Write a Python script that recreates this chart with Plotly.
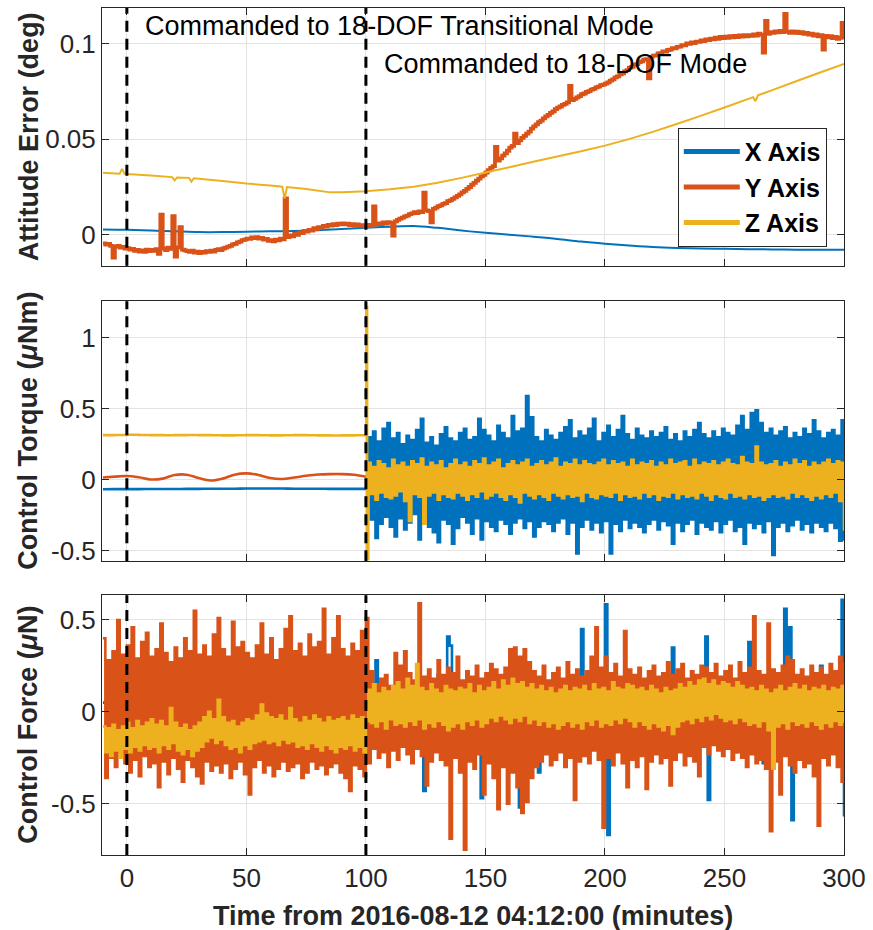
import plotly.graph_objects as go
from plotly.subplots import make_subplots

BLUE = '#0072BD'
ORANGE = '#D95319'
YELLOW = '#EDB120'
AXC = '#262626'

# ---------------- time grids (minutes) ----------------
t_minutes = list(range(-10, 301))          # 1-minute grid
t_post = list(range(101, 301))             # after switch to 18-DOF mode
t_coarse = list(range(-10, 301, 10))       # 10-minute grid
tq_pre_t = list(range(-10, 101, 5))        # 5-minute grid before switch
tq_y_post_t = list(range(101, 300, 4))
t_jump = [100.2, 100.5]

x_ticks = [0, 50, 100, 150, 200, 250, 300]
events = [0, 100]

# ---------------- Attitude error (deg) ----------------
att_x = [0.0028, 0.0026, 0.0022, 0.0018, 0.0014, 0.0014, 0.0016, 0.0018, 0.0020, 0.0024,
         0.0030, 0.0036, 0.0042, 0.0046, 0.0036, 0.0022, 0.0010, 0.0000, -0.0010, -0.0022,
         -0.0036, -0.0047, -0.0056, -0.0064, -0.0069, -0.0072, -0.0074, -0.0076, -0.0077,
         -0.0078, -0.0078, -0.0078]

att_z_t = [-10, -3, -2, -1, 0, 10, 19, 20, 21, 26, 27, 28, 40, 50, 60, 65, 66, 67, 75, 85, 90,
           100, 110, 120, 130, 140, 150, 160, 170, 180, 190, 200, 210, 220, 230, 240, 250,
           260, 262, 263, 264, 270, 280, 290, 300]
att_z = [0.0325, 0.0320, 0.0345, 0.0320, 0.0318, 0.0310, 0.0302, 0.0285, 0.0300, 0.0298, 0.0278,
         0.0296, 0.0282, 0.0268, 0.0258, 0.0252, 0.0190, 0.0250, 0.0240, 0.0222, 0.0222,
         0.0228, 0.0238, 0.0252, 0.0272, 0.0298, 0.0326, 0.0354, 0.0382, 0.0410, 0.0437,
         0.0467, 0.0501, 0.0539, 0.0580, 0.0623, 0.0667, 0.0712, 0.0721, 0.0700, 0.0730,
         0.0758, 0.0804, 0.0850, 0.0895]

att_y = [
    -0.0045, -0.0052, -0.0048, -0.0058, -0.0120, -0.0062, -0.0058, -0.0068, -0.0064, -0.0072,
    -0.0070, -0.0078, -0.0074, -0.0085, -0.0080, -0.0088, -0.0082, -0.0090, -0.0078, -0.0086,
    -0.0080, -0.0084, -0.0076, -0.0100, 0.0105, -0.0072, -0.0080, -0.0068, -0.0074, 0.0098,
    -0.0115, -0.0066, 0.0040, -0.0078, -0.0082, -0.0086, -0.0090, -0.0084, -0.0094, -0.0088,
    -0.0096, -0.0090, -0.0094, -0.0086, -0.0090, -0.0084, -0.0088, -0.0080, -0.0076, -0.0080,
    -0.0072, -0.0068, -0.0062, -0.0058, -0.0050, -0.0048, -0.0040, -0.0036, -0.0028, -0.0026,
    -0.0020, -0.0022, -0.0014, -0.0018, -0.0012, -0.0020, -0.0016, -0.0026, -0.0022, -0.0032,
    -0.0028, -0.0034, -0.0026, -0.0030, -0.0020, -0.0024, 0.0190, -0.0012, -0.0004, -0.0008,
    0.0004, 0.0000, 0.0012, 0.0008, 0.0020, 0.0016, 0.0026, 0.0022, 0.0034, 0.0030,
    0.0040, 0.0036, 0.0046, 0.0042, 0.0052, 0.0048, 0.0056, 0.0050, 0.0058, 0.0054,
    0.0060, 0.0054, 0.0058, 0.0050, 0.0056, 0.0048, 0.0054, 0.0046, 0.0050, 0.0044,
    0.0048, 0.0052, 0.0046, 0.0148, 0.0054, 0.0060, 0.0056, 0.0064, 0.0058, 0.0066,
    0.0062, -0.0005, 0.0070, 0.0078, 0.0084, 0.0090, 0.0096, 0.0100, 0.0108, 0.0112,
    0.0118, 0.0114, 0.0122, 0.0118, 0.0220, 0.0128, 0.0124, 0.0065, 0.0136, 0.0142,
    0.0150, 0.0154, 0.0162, 0.0166, 0.0176, 0.0180, 0.0188, 0.0196, 0.0204, 0.0212,
    0.0222, 0.0230, 0.0240, 0.0250, 0.0262, 0.0272, 0.0284, 0.0294, 0.0306, 0.0314,
    0.0326, 0.0338, 0.0350, 0.0360, 0.0460, 0.0388, 0.0400, 0.0414, 0.0426, 0.0440,
    0.0456, 0.0466, 0.0530, 0.0480, 0.0494, 0.0508, 0.0518, 0.0530, 0.0540, 0.0556,
    0.0568, 0.0578, 0.0590, 0.0598, 0.0610, 0.0620, 0.0628, 0.0638, 0.0646, 0.0658,
    0.0666, 0.0672, 0.0680, 0.0686, 0.0694, 0.0780, 0.0706, 0.0712, 0.0720, 0.0726,
    0.0736, 0.0740, 0.0748, 0.0752, 0.0760, 0.0764, 0.0772, 0.0776, 0.0784, 0.0786,
    0.0792, 0.0798, 0.0808, 0.0814, 0.0824, 0.0830, 0.0840, 0.0846, 0.0856, 0.0862,
    0.0876, 0.0880, 0.0890, 0.0894, 0.0904, 0.0908, 0.0918, 0.0920, 0.0820, 0.0932,
    0.0938, 0.0940, 0.0950, 0.0952, 0.0960, 0.0960, 0.0968, 0.0970, 0.0978, 0.0976,
    0.0984, 0.0986, 0.0994, 0.0992, 0.1002, 0.1000, 0.1008, 0.1004, 0.1012, 0.1010,
    0.1018, 0.1014, 0.1024, 0.1020, 0.1028, 0.1024, 0.1032, 0.1026, 0.1036, 0.1030,
    0.1038, 0.1032, 0.1040, 0.1034, 0.1042, 0.1036, 0.1044, 0.1038, 0.1046, 0.1040,
    0.1046, 0.1042, 0.1050, 0.1044, 0.1054, 0.1048, 0.0954, 0.1120, 0.1052, 0.1062,
    0.1058, 0.1066, 0.1060, 0.1068, 0.1062, 0.1157, 0.1064, 0.1058, 0.1066, 0.1058,
    0.1064, 0.1056, 0.1062, 0.1052, 0.1058, 0.1048, 0.1054, 0.1044, 0.1050, 0.1040,
    0.1046, 0.0970, 0.1042, 0.1034, 0.1040, 0.1030, 0.1036, 0.1026, 0.1032, 0.1110,
    0.1025]

# ---------------- Control torque (uNm) ----------------
tq_x_pre = [-0.067, -0.066, -0.066, -0.066, -0.065, -0.065, -0.065, -0.064, -0.064, -0.063,
            -0.063, -0.063, -0.062, -0.062, -0.062, -0.062, -0.063, -0.063, -0.063, -0.064,
            -0.064, -0.064, -0.064]
tq_y_pre = [0.016, 0.022, 0.027, 0.018, 0.002, 0.008, 0.034, 0.036, 0.012, -0.005, 0.008,
            0.036, 0.045, 0.034, 0.012, 0.006, 0.016, 0.028, 0.037, 0.040, 0.040, 0.035, 0.022]
tq_z_pre = [0.315, 0.316, 0.317, 0.316, 0.315, 0.314, 0.315, 0.316, 0.315, 0.314, 0.313,
            0.314, 0.315, 0.314, 0.313, 0.314, 0.315, 0.314, 0.313, 0.312, 0.313, 0.314, 0.316]
tq_z_jump = [1.22, -0.56]

tq_x_post = [
    0.30, -0.28, 0.34, -0.41, 0.27, -0.31, 0.36, -0.26, 0.40, -0.33,
    0.29, -0.40, 0.33, -0.27, 0.25, -0.35, 0.31, -0.30, 0.28, -0.24,
    0.35, -0.42, 0.43, -0.29, 0.26, -0.33, 0.30, -0.37, 0.24, -0.44,
    0.32, -0.28, 0.37, -0.31, 0.29, -0.45, 0.27, -0.34, 0.33, -0.26,
    0.36, -0.30, 0.28, -0.38, 0.30, -0.27, 0.43, -0.42, 0.35, -0.29,
    0.31, -0.33, 0.27, -0.36, 0.38, -0.28, 0.33, -0.31, 0.29, -0.38,
    0.45, -0.30, 0.34, -0.27, 0.36, -0.34, 0.59, -0.29, 0.44, -0.40,
    0.30, -0.33, 0.27, -0.29, 0.35, -0.31, 0.31, -0.36, 0.28, -0.30,
    0.33, -0.27, 0.37, -0.38, 0.42, -0.30, 0.29, -0.52, 0.34, -0.33,
    0.31, -0.28, 0.36, -0.35, 0.43, -0.30, 0.27, -0.37, 0.33, -0.29,
    0.38, -0.52, 0.30, -0.31, 0.35, -0.36, 0.45, -0.28, 0.32, -0.34,
    0.28, -0.30, 0.36, -0.33, 0.31, -0.37, 0.29, -0.31, 0.34, -0.28,
    0.30, -0.35, 0.33, -0.29, 0.37, -0.32, 0.28, -0.45, 0.32, -0.30,
    0.27, -0.36, 0.34, -0.31, 0.30, -0.28, 0.35, -0.38, 0.40, -0.30,
    0.32, -0.33, 0.29, -0.35, 0.34, -0.29, 0.30, -0.37, 0.36, -0.31,
    0.33, -0.28, 0.31, -0.36, 0.38, -0.33, 0.45, -0.45, 0.35, -0.30,
    0.47, -0.34, 0.49, -0.31, 0.40, -0.37, 0.33, -0.29, 0.36, -0.53,
    0.31, -0.33, 0.34, -0.30, 0.37, -0.36, 0.29, -0.32, 0.33, -0.28,
    0.30, -0.35, 0.36, -0.31, 0.32, -0.37, 0.42, -0.30, 0.34, -0.33,
    0.29, -0.36, 0.33, -0.30, 0.35, -0.34, 0.31, -0.43, 0.42, -0.43]

tq_y_post = [
    0.05, -0.04, 0.06, -0.05, 0.04, -0.06, 0.05, -0.03, 0.06, -0.05,
    0.04, -0.05, 0.06, -0.04, 0.05, -0.06, 0.04, -0.05, 0.06, -0.04,
    0.05, -0.05, 0.04, -0.06, 0.05, -0.04, 0.06, -0.05, 0.04, -0.05,
    0.06, -0.04, 0.05, -0.06, 0.04, -0.05, 0.05, -0.04, 0.06, -0.05,
    0.04, -0.06, 0.05, -0.04, 0.06, -0.05, 0.04, -0.05, 0.05, -0.04]

tq_z_post = [
    0.12, -0.10, 0.09, -0.14, 0.13, -0.09, 0.11, -0.12, 0.08, -0.13,
    0.14, -0.11, 0.10, -0.08, 0.12, -0.15, 0.09, -0.29, 0.13, -0.10,
    0.11, -0.12, 0.15, -0.31, 0.09, -0.11, 0.12, -0.09, 0.10, -0.14,
    0.13, -0.10, 0.08, -0.12, 0.11, -0.13, 0.14, -0.09, 0.10, -0.11,
    0.12, -0.14, 0.09, -0.10, 0.13, -0.12, 0.11, -0.08, 0.15, -0.13,
    0.10, -0.11, 0.12, -0.09, 0.14, -0.12, 0.08, -0.14, 0.11, -0.10,
    0.13, -0.12, 0.10, -0.16, 0.12, -0.09, 0.14, -0.11, 0.09, -0.13,
    0.11, -0.10, 0.13, -0.12, 0.10, -0.14, 0.12, -0.09, 0.15, -0.11,
    0.09, -0.13, 0.12, -0.10, 0.11, -0.12, 0.14, -0.11, 0.10, -0.15,
    0.13, -0.09, 0.11, -0.12, 0.10, -0.13, 0.12, -0.10, 0.14, -0.11,
    0.10, -0.12, 0.13, -0.09, 0.11, -0.14, 0.12, -0.10, 0.09, -0.12,
    0.14, -0.11, 0.10, -0.13, 0.12, -0.09, 0.11, -0.12, 0.13, -0.10,
    0.09, -0.14, 0.12, -0.11, 0.10, -0.12, 0.14, -0.09, 0.11, -0.13,
    0.12, -0.10, 0.13, -0.12, 0.09, -0.11, 0.14, -0.13, 0.10, -0.09,
    0.12, -0.11, 0.11, -0.14, 0.13, -0.10, 0.10, -0.12, 0.12, -0.13,
    0.14, -0.09, 0.11, -0.12, 0.10, -0.11, 0.16, -0.13, 0.12, -0.10,
    0.11, -0.12, 0.235, -0.11, 0.12, -0.14, 0.10, -0.12, 0.11, -0.10,
    0.13, -0.12, 0.09, -0.11, 0.12, -0.13, 0.10, -0.09, 0.14, -0.12,
    0.11, -0.10, 0.13, -0.12, 0.09, -0.14, 0.12, -0.11, 0.10, -0.13,
    0.12, -0.10, 0.14, -0.12, 0.11, -0.09, 0.13, -0.15, 0.12, -0.36]

# ---------------- Control force (uN) ----------------
fc_x_t = [-10, -5, 0, 5, 10, 15, 20, 25, 30, 35, 40, 45, 50, 55, 60, 65, 70, 75, 80, 85, 90, 95, 100,
          103, 104, 105, 110, 115, 120, 123, 124, 125, 129,
          130, 131, 133, 134, 135, 136, 140, 147, 148, 149,
          155, 160, 163, 164, 165, 166, 171, 172, 173, 180,
          189, 190, 191, 199, 200, 201, 202, 208, 209, 210,
          215, 220, 227, 228, 229, 235, 241, 242, 243, 244,
          250, 253, 254, 255, 259, 260, 261, 265, 266, 267,
          270, 274, 275, 276, 277, 278, 279, 285, 289, 290,
          291, 295, 298, 299, 300]
fc_x = [0.05, -0.05, 0.06, -0.04, 0.05, -0.06, 0.04, -0.05, 0.05, -0.04, 0.06, -0.05, 0.04,
        -0.06, 0.05, -0.05, 0.06, -0.04, 0.05, -0.05, 0.04, -0.06, 0.05,
        0.00, 0.28, -0.02, 0.05, -0.05, 0.04, 0.00, -0.43, 0.00, 0.02,
        0.20, 0.00, 0.02, 0.41, 0.36, 0.00, -0.05, 0.00, -0.47, 0.00,
        0.05, -0.05, 0.00, -0.52, -0.50, 0.00, 0.00, -0.33, 0.00, 0.05,
        0.00, 0.45, 0.00, 0.00, 0.585, -0.67, 0.00, 0.00, 0.22, 0.00,
        0.05, -0.05, 0.00, 0.35, 0.00, -0.05, 0.00, 0.41, -0.48, 0.00,
        0.05, 0.00, -0.22, 0.00, 0.00, 0.38, 0.00, 0.00, -0.28, 0.00,
        0.05, 0.00, 0.56, 0.00, 0.46, -0.59, 0.00, 0.05, 0.00, 0.25,
        0.00, -0.05, 0.00, 0.61, -0.57]

fc_y = [
    0.40, -0.36, 0.28, -0.25, 0.33, -0.30, 0.50, -0.22, 0.31, -0.28,
    0.36, -0.33, 0.46, -0.26, 0.29, -0.35, 0.38, -0.24, 0.43, -0.30,
    0.30, -0.28, 0.34, -0.41, 0.48, -0.27, 0.32, -0.34, 0.27, -0.25,
    0.35, -0.31, 0.29, -0.38, 0.40, -0.26, 0.33, -0.30, 0.55, -0.35,
    0.31, -0.39, 0.36, -0.27, 0.30, -0.32, 0.42, -0.29, 0.51, -0.33,
    0.34, -0.28, 0.30, -0.36, 0.49, -0.31, 0.35, -0.27, 0.38, -0.34,
    0.32, -0.45, 0.29, -0.30, 0.36, -0.26, 0.48, -0.33, 0.31, -0.29,
    0.40, -0.35, 0.28, -0.31, 0.34, -0.27, 0.45, -0.32, 0.52, -0.30,
    0.33, -0.28, 0.37, -0.36, 0.30, -0.33, 0.42, -0.27, 0.35, -0.31,
    0.38, -0.29, 0.56, -0.34, 0.31, -0.30, 0.40, -0.28, 0.52, -0.33,
    0.34, -0.36, 0.30, -0.43, 0.37, -0.29, 0.33, -0.31, 0.44, -0.35,
    0.51,
    -0.28, 0.22, -0.20, 0.15, -0.25, 0.18, -0.22, 0.20, -0.30, 0.14,
    -0.21, 0.32, -0.26, 0.25, -0.19, 0.33, -0.23, 0.21, -0.28, 0.17,
    -0.20, 0.59, -0.24, 0.19, -0.40, 0.23, -0.27, 0.18, -0.22, 0.28,
    -0.26, 0.20, -0.29, 0.24, -0.69, 0.21, -0.25, 0.30, -0.33, 0.17,
    -0.75, 0.22, -0.27, 0.19, -0.31, 0.25, -0.23, 0.18, -0.45, 0.21,
    -0.28, 0.26, -0.36, 0.23, -0.53, 0.20, -0.30, 0.24, -0.50, 0.34,
    -0.33, 0.35, -0.41, 0.30, -0.55, 0.34, -0.49, 0.27, -0.36, 0.22,
    -0.30, 0.19, -0.27, 0.25, -0.23, 0.17, -0.29, 0.21, -0.26, 0.24,
    -0.22, 0.18, -0.30, 0.27, -0.25, 0.20, -0.48, 0.23, -0.27, 0.19,
    -0.24, 0.22, -0.28, 0.30, -0.21, 0.46, -0.26, 0.24, -0.63, 0.30,
    -0.25, 0.21, -0.29, 0.26, -0.22, 0.19, -0.28, 0.44, -0.41, 0.23,
    -0.26, 0.20, -0.30, 0.24, -0.24, 0.18, -0.42, 0.22, -0.27, 0.25,
    -0.23, 0.19, -0.28, 0.21, -0.25, 0.27, -0.40, 0.20, -0.26, 0.23,
    -0.22, 0.26, -0.29, 0.18, -0.24, 0.22, -0.27, 0.20, -0.35, 0.25,
    -0.19, 0.24, -0.23, 0.21, -0.18, 0.26, -0.21, 0.19, -0.24, 0.22,
    -0.20, 0.25, -0.26, 0.18, -0.22, 0.27, -0.25, 0.21, -0.30, 0.24,
    -0.23, 0.52, -0.28, 0.22, -0.26, 0.20, -0.31, 0.48, -0.65, 0.23,
    -0.27, 0.21, -0.45, 0.25, -0.24, 0.30, -0.29, 0.28, -0.33, 0.20,
    -0.26, 0.23, -0.30, 0.19, -0.28, 0.25, -0.35, 0.21, -0.62, 0.24,
    -0.25, 0.20, -0.29, 0.26, -0.23, 0.22, -0.30, 0.30, -0.38, 0.27]

fc_z = [
    -0.08, -0.22, -0.09, -0.24, -0.07, -0.21, -0.10, -0.25, -0.08, -0.20,
    -0.06, -0.22, -0.09, -0.19, -0.05, -0.21, -0.08, -0.18, -0.06, -0.20,
    -0.04, -0.19, -0.07, -0.22, -0.05, -0.18, -0.08, -0.20, 0.02, -0.17,
    -0.06, -0.21, -0.09, -0.23, -0.07, -0.20, -0.10, -0.24, -0.08, -0.21,
    -0.06, -0.19, -0.03, -0.16, 0.00, -0.14, -0.04, -0.17, 0.065, -0.15,
    -0.03, -0.18, -0.06, -0.20, -0.05, -0.19, -0.08, -0.22, -0.06, -0.18,
    -0.04, -0.20, -0.05, -0.17, -0.02, -0.16, 0.04, -0.15, -0.01, -0.17,
    -0.03, -0.16, -0.04, -0.18, -0.02, -0.15, -0.05, -0.17, 0.02, -0.16,
    -0.04, -0.19, -0.06, -0.18, -0.03, -0.20, -0.05, -0.17, -0.02, -0.19,
    -0.04, -0.21, -0.06, -0.18, -0.03, -0.20, -0.05, -0.22, -0.04, -0.19,
    -0.03, -0.20, -0.05, -0.18, -0.02, -0.21, -0.04, -0.19, -0.03, -0.22,
    -0.05,
    0.12, -0.06, 0.15, -0.08, 0.10, -0.05, 0.13, -0.09, 0.11, -0.04,
    0.14, -0.07, 0.16, -0.06, 0.12, -0.08, 0.18, -0.05, 0.14, -0.07,
    0.26, -0.04, 0.13, -0.09, 0.11, -0.06, 0.15, -0.08, 0.12, -0.05,
    0.10, -0.07, 0.14, -0.10, 0.12, -0.08, 0.11, -0.06, 0.13, -0.09,
    0.12, -0.05, 0.15, -0.07, 0.10, -0.04, 0.14, -0.08, 0.11, -0.06,
    0.13, -0.03, 0.16, -0.05, 0.12, -0.02, 0.17, -0.04, 0.14, -0.06,
    0.18, -0.03, 0.15, -0.05, 0.16, -0.02, 0.13, -0.06, 0.15, -0.04,
    0.12, -0.07, 0.14, -0.05, 0.11, -0.08, 0.13, -0.06, 0.10, -0.09,
    0.12, -0.07, 0.14, -0.05, 0.11, -0.08, 0.13, -0.06, 0.12, -0.09,
    0.14, -0.05, 0.11, -0.07, 0.15, -0.04, 0.12, -0.08, 0.13, -0.06,
    0.11, -0.07, 0.16, -0.04, 0.13, -0.06, 0.12, -0.03, 0.15, -0.05,
    0.14, -0.08, 0.12, -0.05, 0.13, -0.07, 0.11, -0.09, 0.14, -0.06,
    0.12, -0.08, 0.10, -0.10, 0.13, -0.07, 0.11, -0.12, 0.12, -0.08,
    0.15, -0.05, 0.13, -0.04, 0.16, -0.06, 0.14, -0.03, 0.17, -0.05,
    0.18, -0.02, 0.15, -0.04, 0.17, -0.01, 0.14, -0.03, 0.16, -0.05,
    0.15, -0.04, 0.13, -0.06, 0.16, -0.03, 0.14, -0.05, 0.12, -0.07,
    0.13, -0.06, 0.11, -0.08, 0.14, -0.05, 0.12, -0.10, 0.10, -0.31,
    0.12, -0.08, 0.14, -0.06, 0.11, -0.09, 0.13, -0.05, 0.15, -0.07,
    0.12, -0.06, 0.14, -0.08, 0.11, -0.05, 0.13, -0.07, 0.12, -0.09,
    0.14, -0.06, 0.11, -0.08, 0.13, -0.05, 0.12, -0.07, 0.14, -0.06]

series_names = ['X Axis', 'Y Axis', 'Z Axis']
series_colors = [BLUE, ORANGE, YELLOW]

# ---------------- figure ----------------
fig = make_subplots(rows=3, cols=1)

def add_line(x, y, color, row, width=2.0, shape='linear'):
    fig.add_trace(go.Scatter(x=x, y=y, mode='lines', showlegend=False, hoverinfo='skip',
                             line=dict(color=color, width=width, shape=shape, simplify=False)),
                  row=row, col=1)

# row 1: attitude error
add_line(t_coarse, att_x, BLUE, 1, 2.0, 'spline')
add_line(t_minutes, att_y, ORANGE, 1, 3.8, 'hv')
add_line(att_z_t, att_z, YELLOW, 1, 2.0)

# row 2: control torque
add_line(tq_pre_t, tq_x_pre, BLUE, 2, 2.6, 'spline')
add_line([100] + t_post, [tq_x_pre[-1]] + tq_x_post, BLUE, 2, 2.6, 'hv')
add_line(tq_pre_t, tq_y_pre, ORANGE, 2, 2.6, 'spline')
add_line([100] + tq_y_post_t, [tq_y_pre[-1]] + tq_y_post, ORANGE, 2, 2.6, 'hv')
add_line(tq_pre_t + t_jump + t_post, tq_z_pre + tq_z_jump + tq_z_post, YELLOW, 2, 2.6, 'hv')

# row 3: control force
add_line(fc_x_t, fc_x, BLUE, 3, 2.6, 'hv')
add_line(t_minutes, fc_y, ORANGE, 3, 2.6, 'hv')
add_line(t_minutes, fc_z, YELLOW, 3, 2.6, 'hv')

# legend entries
for name, color in zip(series_names, series_colors):
    fig.add_trace(go.Scatter(x=[None], y=[None], mode='lines', name=name,
                             line=dict(color=color, width=5)), row=1, col=1)

# event lines
for r in (1, 2, 3):
    for ev in events:
        fig.add_vline(x=ev, line=dict(color='black', width=3, dash='11px,7px'), row=r, col=1)

domains = [[0.6958, 1.0], [0.3467, 0.6537], [0.0, 0.3066]]
yranges = [[-0.0162, 0.1188], [-0.575, 1.258], [-0.779, 0.634]]
ytickv = [[0, 0.05, 0.1], [-0.5, 0, 0.5, 1], [-0.5, 0, 0.5]]
ytickt = [['0', '0.05', '0.1'], ['-0.5', '0', '0.5', '1'], ['-0.5', '0', '0.5']]

axis_common = dict(showgrid=True, gridcolor='#e3e3e3', gridwidth=1, zeroline=False,
                   showline=True, linecolor=AXC, linewidth=1, mirror='ticks',
                   ticks='inside', ticklen=7, tickcolor=AXC,
                   tickfont=dict(family='Arial', size=26, color=AXC))

for i in range(3):
    sfx = '' if i == 0 else str(i + 1)
    fig.update_layout(**{
        'xaxis' + sfx: dict(range=[-10.4, 300], tickvals=x_ticks,
                            ticktext=[str(v) for v in x_ticks],
                            showticklabels=(i == 2), **axis_common),
        'yaxis' + sfx: dict(domain=domains[i], range=yranges[i], tickvals=ytickv[i],
                            ticktext=ytickt[i], **axis_common),
    })

ytitles = ['Attitude Error (deg)', 'Control Torque (<i>μ</i>Nm)', 'Control Force (<i>μ</i>N)']
annotations = []
for i, title in enumerate(ytitles):
    annotations.append(dict(text='<b>' + title + '</b>', xref='paper', yref='paper',
                            x=-0.099, y=(domains[i][0] + domains[i][1]) / 2,
                            xanchor='center', yanchor='middle', textangle=-90, showarrow=False,
                            font=dict(family='Arial', size=27, color=AXC)))
annotations.append(dict(text='<b>Time from 2016-08-12 04:12:00 (minutes)</b>', xref='paper',
                        yref='paper', x=0.5, y=-0.0725, xanchor='center', yanchor='middle',
                        showarrow=False, font=dict(family='Arial', size=27, color=AXC)))
annotations.append(dict(text='Commanded to 18-DOF Transitional Mode', xref='x', yref='y',
                        x=6.8, y=0.1092, xanchor='left', yanchor='middle', showarrow=False,
                        font=dict(family='Arial', size=27, color='black')))
annotations.append(dict(text='Commanded to 18-DOF Mode', xref='x', yref='y',
                        x=106.6, y=0.0893, xanchor='left', yanchor='middle', showarrow=False,
                        font=dict(family='Arial', size=27, color='black')))

fig.update_layout(
    width=873, height=930,
    margin=dict(l=102, r=26, t=7, b=75),
    paper_bgcolor='white', plot_bgcolor='white',
    font=dict(family='Arial', size=25, color=AXC),
    annotations=annotations,
    showlegend=True,
    legend=dict(x=0.776, y=0.8585, xanchor='left', yanchor='top', bgcolor='white',
                bordercolor=AXC, borderwidth=1, itemwidth=56, tracegroupgap=0,
                font=dict(family='Arial', size=25, color='black', weight='bold')),
)

fig.write_html('out.html')
